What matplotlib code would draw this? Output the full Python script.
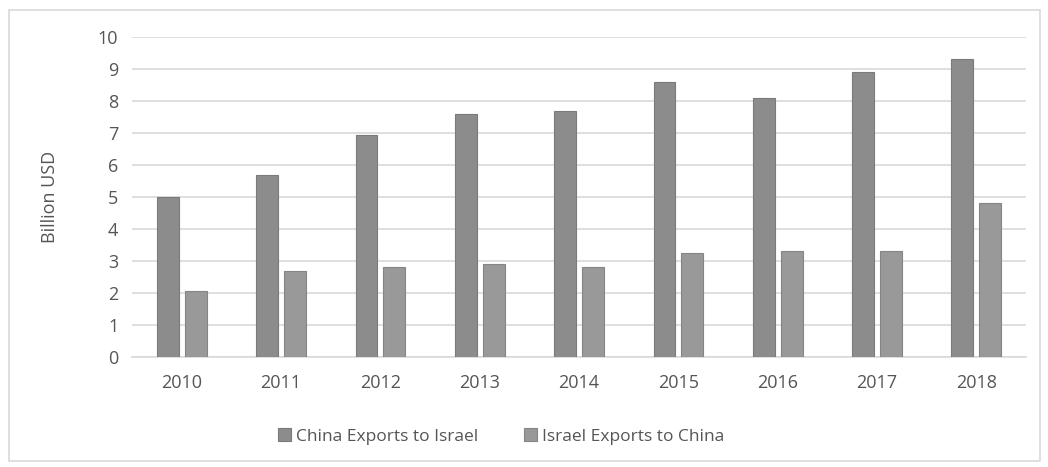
import matplotlib.pyplot as plt
import numpy as np
from matplotlib.patches import Rectangle

plt.rcParams['font.family'] = ['Open Sans', 'DejaVu Sans']

# Data (billion USD)
years = ['2010', '2011', '2012', '2013', '2014', '2015', '2016', '2017', '2018']
china_to_israel = [5.0, 5.7, 6.95, 7.6, 7.7, 8.6, 8.1, 8.9, 9.3]
israel_to_china = [2.05, 2.7, 2.8, 2.9, 2.8, 3.25, 3.3, 3.3, 4.8]

text_col = '#555555'

fig = plt.figure(figsize=(10.48, 4.67), dpi=100)
ax = fig.add_axes([0.126, 0.2355, 0.853, 0.6855])

x = np.arange(len(years))
w = 0.22
ax.bar(x - 0.14, china_to_israel, w, color='#8c8c8c', edgecolor='#7a7a7a',
       linewidth=0.8, label='China Exports to Israel', zorder=3)
ax.bar(x + 0.14, israel_to_china, w, color='#999999', edgecolor='#858585',
       linewidth=0.8, label='Israel Exports to China', zorder=3)

ax.set_xlim(-0.5, len(years) - 0.5)
ax.set_ylim(0, 10)
ax.set_yticks(range(0, 11))
ax.set_xticks(x)
ax.set_xticklabels(years)
ax.grid(axis='y', color='#d9d9d9', linewidth=1.2, zorder=0)
ax.tick_params(length=0, labelsize=13, colors=text_col, pad=10)
ax.tick_params(axis='x', pad=12)
for s in ['top', 'right', 'left']:
    ax.spines[s].set_visible(False)
ax.spines['bottom'].set_color('#d9d9d9')
ax.spines['bottom'].set_linewidth(1.2)
ax.set_ylabel('Billion USD', fontsize=13, color=text_col, labelpad=28)

fig.legend(loc='center', bbox_to_anchor=(0.478, 0.065), ncol=2, frameon=False,
           fontsize=12.5, handlelength=0.75, handleheight=0.75, handletextpad=0.3,
           columnspacing=2.6, labelcolor=text_col)

fig.patches.append(Rectangle((0.009, 0.012), 0.983, 0.966, transform=fig.transFigure,
                             fill=False, edgecolor='#d9d9d9', linewidth=1.2))

fig.savefig('out.png', dpi=100)
